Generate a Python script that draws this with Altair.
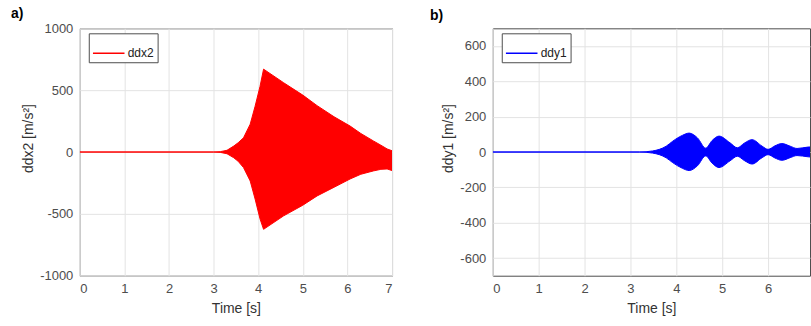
import altair as alt
import pandas as pd

# ---- panel a) ddx2 envelope (read from picture) ----
t_x = [0, 3.0, 3.15, 3.3, 3.45, 3.55, 3.67, 3.82, 3.93, 4.04, 4.12, 4.57, 5.0, 5.32, 5.7, 6.06, 6.3, 6.58, 6.75, 6.89, 7.0]
up_x = [0, 0, 3, 14, 48, 75, 115, 225, 370, 530, 670, 560, 460, 375, 285, 210, 150, 90, 55, 25, 10]
lo_x = [0, 0, -3, -14, -46, -75, -126, -234, -380, -540, -625, -516, -430, -355, -285, -218, -180, -153, -140, -137, -150]

# ---- panel b) ddy1 envelope (read from picture) ----
t_y = [0, 3.2, 3.48, 3.63, 3.78, 3.92, 4.13, 4.28, 4.46, 4.64, 4.78, 4.93, 5.17, 5.33, 5.48, 5.65, 5.87, 6.0, 6.15, 6.3, 6.48, 6.63, 6.87, 7.0]
up_y = [0, 0, 6, 15, 33, 61, 94, 107, 80, 22, 65, 90, 52, 24, 50, 70, 33, 15, 35, 48, 33, 20, 28, 30]
lo_y = [0, 0, -6, -15, -33, -60, -92, -105, -78, -22, -63, -88, -50, -24, -48, -68, -32, -15, -34, -47, -32, -20, -27, -30]

x_ticks = [0, 1, 2, 3, 4, 5, 6, 7]
ya_ticks = [-1000, -500, 0, 500, 1000]
yb_ticks = [-600, -400, -200, 0, 200, 400, 600]

FONT = "Liberation Sans"


def panel(t, up, lo, name, color, ydom, yticks, ytitle, xdom, width, tag, tag_x, tag_y, interp):
    df = pd.DataFrame({"t": t, "up": up, "lo": lo, "series": [name] * len(t)})
    base = alt.Chart(df)
    xenc = alt.X("t:Q", scale=alt.Scale(domain=xdom, nice=False, zero=False),
                 axis=alt.Axis(values=x_ticks, title="Time [s]", labelExpr="'' + datum.value"))
    yaxis = alt.Axis(values=yticks, title=ytitle, labelExpr="'' + datum.value", titleY=110)
    area = base.mark_area(color=color, interpolate=interp, clip=True).encode(
        x=xenc,
        y=alt.Y("lo:Q", scale=alt.Scale(domain=ydom, nice=False), axis=yaxis),
        y2="up:Q",
    )
    cscale = alt.Scale(domain=[name], range=[color])
    line_up = base.mark_line(strokeWidth=1, interpolate=interp, clip=True).encode(
        x="t:Q", y="up:Q",
        color=alt.Color("series:N", scale=cscale, legend=alt.Legend(
            title=None, orient="none", legendX=9, legendY=5,
            strokeColor="#4d4d4d", fillColor="white", padding=3, cornerRadius=0,
            symbolType="stroke", symbolSize=1000, symbolStrokeWidth=1.5,
            labelFont=FONT, labelFontSize=12, labelColor="#222222", labelOffset=2)),
    )
    line_lo = base.mark_line(strokeWidth=1, interpolate=interp, clip=True).encode(
        x="t:Q", y="lo:Q",
        color=alt.Color("series:N", scale=cscale, legend=None),
    )
    lab = alt.Chart(pd.DataFrame({"lab": [tag]})).mark_text(
        align="left", baseline="middle", fontSize=14, fontWeight="bold", font=FONT, color="black"
    ).encode(x=alt.value(tag_x), y=alt.value(tag_y), text="lab:N")
    return alt.layer(area, line_up, line_lo, lab).properties(width=width, height=248)


left = panel(t_x, up_x, lo_x, "ddx2", "#ff0000", [-1000, 1000], ya_ticks, "ddx2 [m/s²]",
             [0, 7], 313, "a)", -69, -14, "linear")
right = panel(t_y, up_y, lo_y, "ddy1", "#0000ff", [-700, 700], yb_ticks, "ddy1 [m/s²]",
              [0, 6.913], 318, "b)", -63, -12, "monotone")

chart = alt.hconcat(left, right, spacing=101, bounds="flush").resolve_scale(
    color="independent", x="independent", y="independent"
).properties(
    padding={"left": 10, "top": 6, "right": 0, "bottom": 0}
).configure_view(
    stroke="#4d4d4d", strokeWidth=1
).configure_axis(
    labelFont=FONT, labelFontSize=13, labelColor="#4d4d4d",
    titleFont=FONT, titleFontSize=14, titleColor="#333333", titleFontWeight="normal",
    grid=True, gridColor="#e3e3e3", gridWidth=1,
    domain=False, ticks=False,
).configure_axisY(
    labelPadding=7, titlePadding=4
).configure_axisX(
    labelPadding=7, titlePadding=6
)

chart.save("out.html", embed_options={"renderer": "svg", "actions": False})
